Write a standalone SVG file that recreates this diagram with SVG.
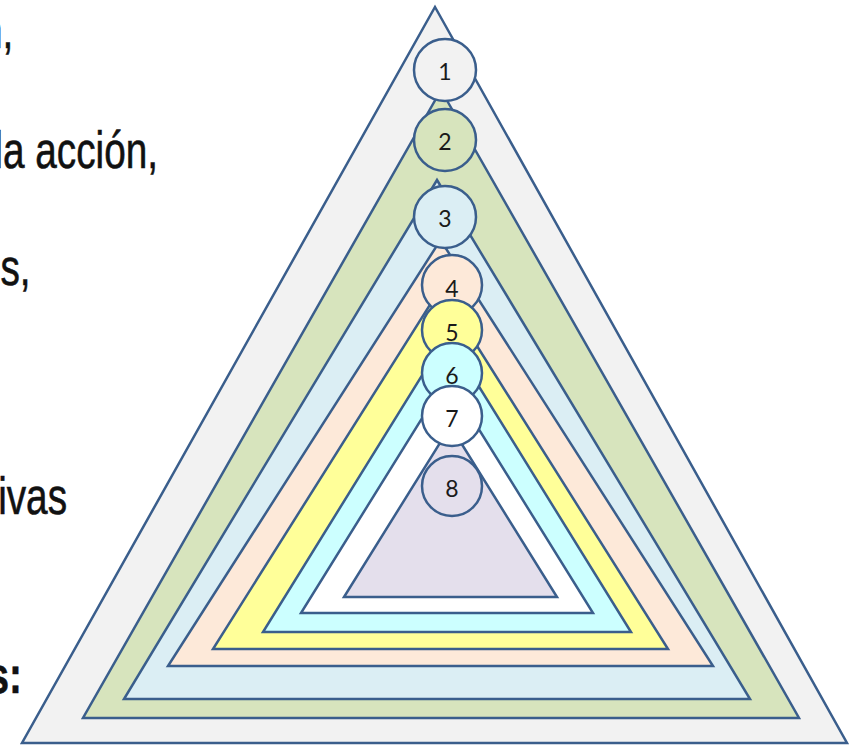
<svg xmlns="http://www.w3.org/2000/svg" width="856" height="745" viewBox="0 0 856 745">
  <style>
    .tri { stroke: #3A5E8C; stroke-width: 2.5; stroke-linejoin: miter; }
    .node circle { stroke: #3A5E8C; stroke-width: 2.5; }
    .num { font-family: Lato, "Open Sans", "Liberation Sans", sans-serif; font-size: 23px; fill: #1a1a1a; text-anchor: middle; }
    .side { font-family: "Liberation Sans", Arial, sans-serif; font-size: 51px; fill: #111111; stroke: #111111; stroke-width: 0.6; text-anchor: end; }
  </style>
  <rect x="0" y="0" width="856" height="745" fill="#FFFFFF"/>

  <g id="side-text" transform="scale(0.76 1)">
    <text class="side" x="17.5" y="48">n,</text>
    <text class="side" x="207.9" y="168">la acción,</text>
    <text class="side" x="40.3" y="285">s,</text>
    <text class="side" x="88.2" y="514">ivas</text>
    <text class="side" x="28.9" y="693" font-weight="bold">s:</text>
  </g>

  <g id="layers">
    <polygon id="layer1" class="tri" fill="#F2F2F2" points="435,7 847,743 22,743"/>
    <polygon id="layer2" class="tri" fill="#D7E4BD" points="441,90 799,718 83,718"/>
    <polygon id="layer3" class="tri" fill="#DBEEF4" points="437,180 750,699 124,699"/>
    <polygon id="layer4" class="tri" fill="#FDE9D9" points="440.5,240 713,666 168,666"/>
    <polygon id="layer5" class="tri" fill="#FFFF99" points="440.5,288 668,649 213,649"/>
    <polygon id="layer6" class="tri" fill="#CCFFFF" points="447,335 631,632 263,632"/>
    <polygon id="layer7" class="tri" fill="#FFFFFF" points="447,378 593,613 301,613"/>
    <polygon id="layer8" class="tri" fill="#E4DFEC" points="450.5,426 557,597 344,597"/>
  </g>

  <g id="connectors"></g>

  <g id="node1" class="node"><circle cx="445" cy="70" r="31" fill="#F2F2F2"/><text class="num" x="445" y="80">1</text></g>
  <g id="node2" class="node"><circle cx="445" cy="140" r="31" fill="#D7E4BD"/><text class="num" x="445" y="150">2</text></g>
  <g id="node3" class="node"><circle cx="445" cy="217" r="31" fill="#DBEEF4"/><text class="num" x="445" y="227">3</text></g>
  <g id="node4" class="node"><circle cx="452" cy="285" r="30" fill="#FDE9D9"/><text class="num" x="452" y="297">4</text></g>
  <g id="node5" class="node"><circle cx="452" cy="330" r="30" fill="#FFFF99"/><text class="num" x="452" y="341">5</text></g>
  <g id="node6" class="node"><circle cx="452" cy="373" r="30" fill="#CCFFFF"/><text class="num" x="452" y="384">6</text></g>
  <g id="node7" class="node"><circle cx="452" cy="416" r="30" fill="#FFFFFF"/><text class="num" x="452" y="427">7</text></g>
  <g id="node8" class="node"><circle cx="452" cy="486" r="30" fill="#E4DFEC"/><text class="num" x="452" y="497">8</text></g>
</svg>
